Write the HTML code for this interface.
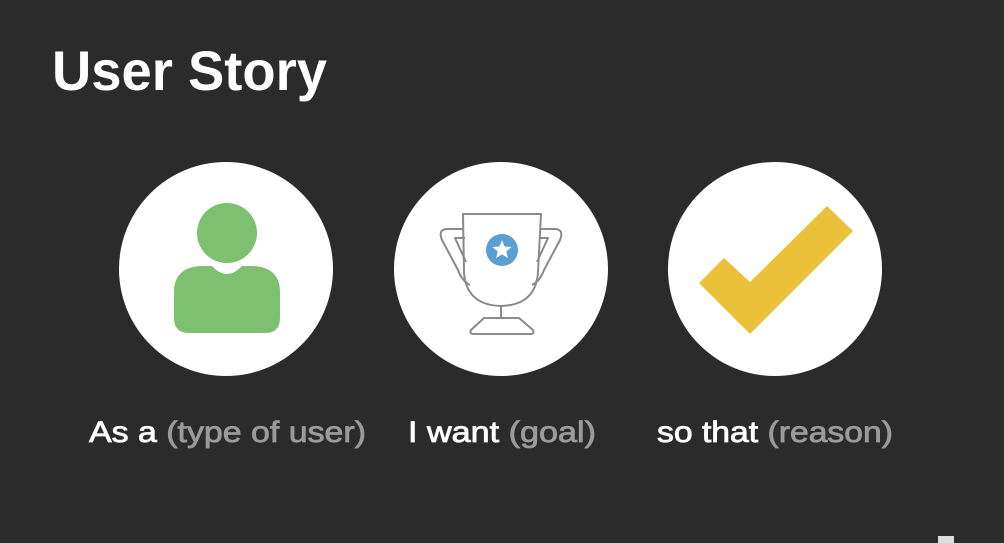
<!DOCTYPE html>
<html><head><meta charset="utf-8"><style>
html,body{margin:0;padding:0;background:#2b2b2b;}
svg{display:block;}
text{font-family:"Liberation Sans",sans-serif;}
</style></head><body>
<svg width="1004" height="543" viewBox="0 0 1004 543" xmlns="http://www.w3.org/2000/svg">
<rect width="1004" height="543" fill="#2b2b2b"/>
<text x="52" y="90" font-size="56" font-weight="bold" fill="#ffffff" textLength="275" lengthAdjust="spacingAndGlyphs">User Story</text>
<circle cx="226" cy="269" r="107" fill="#ffffff"/>
<circle cx="501" cy="269" r="107" fill="#ffffff"/>
<circle cx="775" cy="269" r="107" fill="#ffffff"/>
<!-- person -->
<circle cx="227" cy="233" r="30" fill="#7dc06f"/>
<path d="M200 266 L212 266 Q227 282 242 266 L254 266 Q280 268 280 292 L280 318 Q280 333 265 333 L189 333 Q174 333 174 318 L174 292 Q174 268 200 266 Z" fill="#7dc06f"/>
<!-- trophy -->
<g fill="none" stroke="#8a8a8a" stroke-width="2" stroke-linejoin="round">
<path d="M463 214 L541 214 L538 272 Q536 305 501 306 Q466 305 464 272 Z"/>
<path d="M464 229 L446 229 Q438 230 442 240 L458 270 Q462 281 470 285"/>
<path d="M465 238 L455 238 L466 262"/>
<path d="M540 229 L556 229 Q564 230 560 240 L544 270 Q540 281 532 285"/>
<path d="M539 238 L548 238 L537 262"/>
<line x1="501" y1="306" x2="501" y2="318"/>
<path d="M484 318 L519 318 L533 330 Q535 334 530 334 L474 334 Q469 334 471 330 Z"/>
</g>
<circle cx="502" cy="250" r="16" fill="#5a9fd4"/>
<polygon points="502,240 504.6,246.5 511.5,247 506.2,251.5 507.9,258 502,254.4 496.1,258 497.8,251.5 492.5,247 499.4,246.5" fill="#ffffff"/>
<!-- check -->
<polygon points="699,283 724,258 750,282 827,206 853,231 750,334" fill="#ecc13a"/>
<!-- labels -->
<g stroke-width="0.8">
<text x="89" y="442" font-size="30" fill="#ffffff" stroke="#ffffff" textLength="277" lengthAdjust="spacingAndGlyphs">As a <tspan fill="#9a9a9a" stroke="#9a9a9a">(type of user)</tspan></text>
<text x="408" y="442" font-size="30" fill="#ffffff" stroke="#ffffff" textLength="188" lengthAdjust="spacingAndGlyphs">I want <tspan fill="#9a9a9a" stroke="#9a9a9a">(goal)</tspan></text>
<text x="657" y="442" font-size="30" fill="#ffffff" stroke="#ffffff" textLength="236" lengthAdjust="spacingAndGlyphs">so that <tspan fill="#9a9a9a" stroke="#9a9a9a">(reason)</tspan></text>
</g>
<rect x="938" y="536" width="16" height="7" fill="#dddddd"/>
</svg>
</body></html>
